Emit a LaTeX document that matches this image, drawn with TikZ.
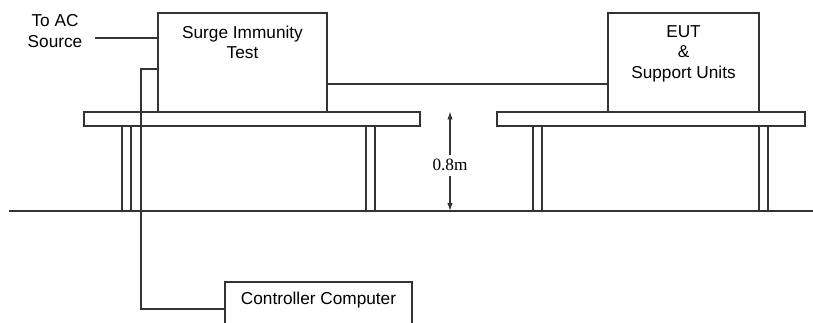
\documentclass[tikz,border=0pt]{standalone}
\usepackage{fontspec}
\setmainfont{Liberation Sans}
\newfontfamily\serifnum{Liberation Serif}
\usetikzlibrary{arrows.meta,positioning,calc}
\tikzset{
box/.style = {draw=black!80, fill=white, rectangle, line width=1.1bp, inner sep=0pt},
cable/.style = {draw=black!80, line width=1.1bp},
boxtext/.style = {align=center, inner sep=0pt},
leg/.style = {draw=black!80, fill=white, line width=1.1bp}
}

\begin{document}
\begin{tikzpicture}[x=1bp, y=-1bp, >={Latex[length=8bp,width=5.5bp]}, font=\fontsize{17.3}{20.5}\selectfont]
  \clip (0,0) rectangle (813,322);

  % floor and table legs
  \draw [cable] (9,211) coordinate (floorL) -- (813,211) coordinate (floorR);
  \foreach \x in {122,366,533,759}
    \draw [leg] (\x,126) rectangle ++(9,85);
  \node [box, minimum width=336bp, minimum height=14bp] (tableL) at (252,119) {};
  \node [box, minimum width=308bp, minimum height=14bp] (tableR) at (651,119) {};

  % units
  \node [box, minimum width=169bp, minimum height=99bp] (surge) at (242.5,62.5) {};
  \node [boxtext, below=13bp of surge.north]            (surgetxt) {Surge Immunity\\Test};
  \node [box, minimum width=151bp, minimum height=99bp] (eut)   at (683.5,62.5) {};
  \node [boxtext, below=13bp of eut.north]              (euttxt) {EUT\\\&\\Support Units};
  \node [box, minimum width=187bp, minimum height=80bp] (ctrl)  at (318.5,322) {};
  \node [boxtext, below=10bp of ctrl.north]             (ctrltxt) {Controller Computer};
  \node [boxtext]                                       (ac)    at (55,31) {To AC\\Source};

  % cables
  \coordinate (acend) at (95,38);
  \coordinate (bend) at (141,69);
  \draw [cable] (acend) -- (acend -| surge.west);
  \draw [cable] (bend -| surge.west) -- (bend) -- (bend |- 0,309) -- (ctrl.west |- 0,309);
  \draw [cable] (surge.east |- 0,84) -- (eut.west |- 0,84);

  % height
  \node [inner sep=0pt, font=\serifnum\fontsize{17.3}{20}\selectfont] (height) at (450,165) {0.8m};
  \draw [cable, ->] (height.north) ++(0,-4) -- (height |- tableL.north);
  \draw [cable, ->] (height.south) ++(0,5) -- (height |- floorL);
\end{tikzpicture}
\end{document}
